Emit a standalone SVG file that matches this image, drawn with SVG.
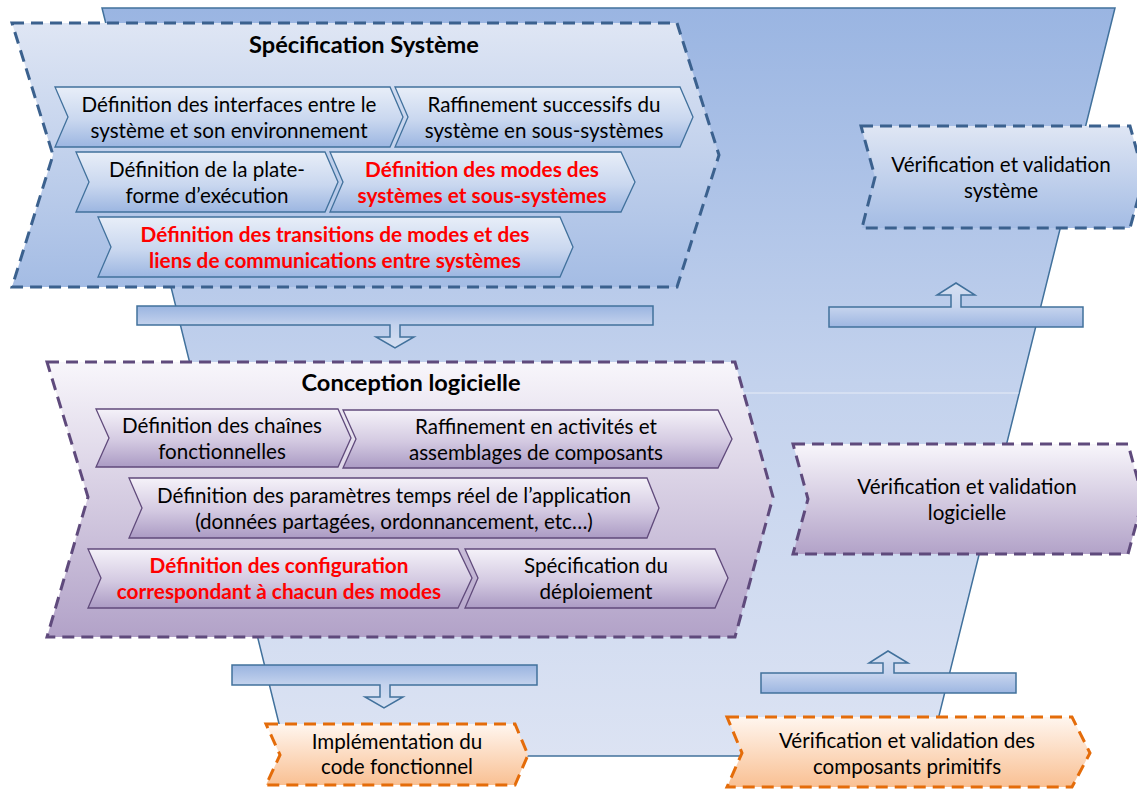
<svg xmlns="http://www.w3.org/2000/svg" width="1137" height="789" viewBox="0 0 1137 789">
  <defs>
    <linearGradient id="gBack" gradientUnits="userSpaceOnUse" x1="0" y1="8" x2="0" y2="756">
      <stop offset="0" stop-color="#9ab5e2"/>
      <stop offset="0.5" stop-color="#c3d2ed"/>
      <stop offset="1" stop-color="#dce3f3"/>
    </linearGradient>
    <linearGradient id="gBlueBig" x1="0" y1="0" x2="0" y2="1">
      <stop offset="0" stop-color="#dfe6f4"/>
      <stop offset="1" stop-color="#a4bce4"/>
    </linearGradient>
    <linearGradient id="gBlueSub" x1="0" y1="0" x2="0" y2="1">
      <stop offset="0" stop-color="#e8eef8"/>
      <stop offset="0.55" stop-color="#c9d7ef"/>
      <stop offset="1" stop-color="#9cb6e1"/>
    </linearGradient>
    <linearGradient id="gPurpleBig" x1="0" y1="0" x2="0" y2="1">
      <stop offset="0" stop-color="#f8f6fb"/>
      <stop offset="1" stop-color="#b2a2c8"/>
    </linearGradient>
    <linearGradient id="gPurpleSub" x1="0" y1="0" x2="0" y2="1">
      <stop offset="0" stop-color="#f5f2f9"/>
      <stop offset="0.55" stop-color="#d3c9e1"/>
      <stop offset="1" stop-color="#ab9bc4"/>
    </linearGradient>
    <linearGradient id="gOrange" x1="0" y1="0" x2="0" y2="1">
      <stop offset="0" stop-color="#fff6ef"/>
      <stop offset="1" stop-color="#f9c093"/>
    </linearGradient>
    <linearGradient id="gDown" x1="0" y1="0" x2="0" y2="1">
      <stop offset="0" stop-color="#9ab4e0"/>
      <stop offset="0.45" stop-color="#c3d2ed"/>
      <stop offset="1" stop-color="#d6e0f2"/>
    </linearGradient>
    <linearGradient id="gUp" x1="0" y1="0" x2="0" y2="1">
      <stop offset="0" stop-color="#d6e0f2"/>
      <stop offset="0.55" stop-color="#c6d4ee"/>
      <stop offset="1" stop-color="#9db6e1"/>
    </linearGradient>
  </defs>
  <style>
    text { font-family: Lato, "Noto Sans", "DejaVu Sans", sans-serif; font-size: 20.6px; fill: #000; text-anchor: middle; }
    .title { font-weight: bold; font-size: 23.6px; }
    .red { fill: #ff0000; font-weight: bold; font-size: 20.8px; }
    .sub-blue { fill: url(#gBlueSub); stroke: #41719c; stroke-width: 1.3; }
    .sub-purple { fill: url(#gPurpleSub); stroke: #604a7b; stroke-width: 1.3; }
    .dash-blue { stroke: #3b618e; stroke-width: 3; stroke-dasharray: 12 7; }
    .dash-purple { stroke: #5f4a7c; stroke-width: 3; stroke-dasharray: 12 7; }
    .dash-orange { stroke: #e46c0a; stroke-width: 3; stroke-dasharray: 12 7; }
    .arrow { stroke: #41719c; stroke-width: 1.5; }
  </style>

  <!-- background V-shaped funnel -->
  <g id="funnel">
    <path d="M102,8 H1115 L929,756 H287 Z" fill="url(#gBack)" stroke="#41719c" stroke-width="1.5"/>
    <line x1="197" y1="393" x2="1019" y2="393" stroke="#ffffff" stroke-opacity="0.6" stroke-width="1"/>
  </g>

  <!-- Spécification Système -->
  <g id="spec-systeme">
    <path class="dash-blue" d="M12,23 H677 L719,155 L677,287 H12 L53,155 Z" fill="url(#gBlueBig)"/>
    <text class="title" x="364" y="53">Spécification Système</text>
  </g>
  <g id="def-interfaces">
    <path class="sub-blue" d="M55,87 H390 L403,117 L390,147 H55 L68,117 Z"/>
    <text x="229" y="112">Définition des interfaces entre le</text>
    <text x="229" y="138">système et son environnement</text>
  </g>
  <g id="raffinement-sous-systemes">
    <path class="sub-blue" d="M395,87 H680 L693,117 L680,147 H395 L408,117 Z"/>
    <text x="544" y="112">Raffinement successifs du</text>
    <text x="544" y="138">système en sous-systèmes</text>
  </g>
  <g id="def-plateforme">
    <path class="sub-blue" d="M76,152 H325 L338,182 L325,212 H76 L89,182 Z"/>
    <text x="207" y="177">Définition de la plate-</text>
    <text x="207" y="203">forme d’exécution</text>
  </g>
  <g id="def-modes">
    <path class="sub-blue" d="M330,152 H621 L635,182 L621,212 H330 L343,182 Z"/>
    <text class="red" x="482" y="177">Définition des modes des</text>
    <text class="red" x="482" y="203">systèmes et sous-systèmes</text>
  </g>
  <g id="def-transitions">
    <path class="sub-blue" d="M98,217 H560 L573,247 L560,277 H98 L111,247 Z"/>
    <text class="red" x="335" y="242">Définition des transitions de modes et des</text>
    <text class="red" x="335" y="268">liens de communications entre systèmes</text>
  </g>

  <!-- Vérification et validation système -->
  <g id="vv-systeme">
    <path class="dash-blue" d="M861,126 H1130 L1144,177 L1130,228 H862 L875,177 Z" fill="url(#gBlueBig)"/>
    <text x="1001" y="172">Vérification et validation</text>
    <text x="1001" y="198">système</text>
  </g>

  <!-- Conception logicielle -->
  <g id="conception-logicielle">
    <path class="dash-purple" d="M47,362 H735 L773,497 L735,637 H47 L88,497 Z" fill="url(#gPurpleBig)"/>
    <text class="title" x="411" y="391">Conception logicielle</text>
  </g>
  <g id="def-chaines">
    <path class="sub-purple" d="M96,409 H338 L351,438 L338,467 H96 L109,438 Z"/>
    <text x="222" y="433">Définition des chaînes</text>
    <text x="222" y="459">fonctionnelles</text>
  </g>
  <g id="raffinement-activites">
    <path class="sub-purple" d="M343,410 H718 L732,439 L718,468 H343 L356,439 Z"/>
    <text x="536" y="434">Raffinement en activités et</text>
    <text x="536" y="460">assemblages de composants</text>
  </g>
  <g id="def-parametres">
    <path class="sub-purple" d="M129,478 H647 L659,508 L647,538 H129 L142,508 Z"/>
    <text x="394" y="503">Définition des paramètres temps réel de l’application</text>
    <text x="394" y="529">(données partagées, ordonnancement, etc…)</text>
  </g>
  <g id="def-configuration">
    <path class="sub-purple" d="M88,549 H458 L472,578 L458,608 H88 L101,578 Z"/>
    <text class="red" x="279" y="573">Définition des configuration</text>
    <text class="red" x="279" y="599">correspondant à chacun des modes</text>
  </g>
  <g id="spec-deploiement">
    <path class="sub-purple" d="M465,549 H715 L728,578 L715,608 H465 L478,578 Z"/>
    <text x="596" y="573">Spécification du</text>
    <text x="596" y="599">déploiement</text>
  </g>

  <!-- Vérification et validation logicielle -->
  <g id="vv-logicielle">
    <path class="dash-purple" d="M793,444 H1128 L1143,499 L1128,554 H793 L808,499 Z" fill="url(#gPurpleBig)"/>
    <text x="967" y="494">Vérification et validation</text>
    <text x="967" y="520">logicielle</text>
  </g>

  <!-- Implémentation du code fonctionnel -->
  <g id="implementation">
    <path class="dash-orange" d="M266,724 H515 L528,755 L515,785 H266 L280,755 Z" fill="url(#gOrange)"/>
    <text x="397" y="749">Implémentation du</text>
    <text x="397" y="774">code fonctionnel</text>
  </g>

  <!-- Vérification et validation des composants primitifs -->
  <g id="vv-composants">
    <path class="dash-orange" d="M727,717 H1072 L1090,753 L1072,787 H727 L742,753 Z" fill="url(#gOrange)"/>
    <text x="907" y="748">Vérification et validation des</text>
    <text x="907" y="774">composants primitifs</text>
  </g>

  <!-- flow arrows between levels -->
  <g id="connectors">
    <path class="arrow" fill="url(#gDown)" d="M137,306 H653 V325 H400 V337 H414 L395,348 L376,337 H390 V325 H137 Z"/>
    <path class="arrow" fill="url(#gUp)" d="M829,307 H951 V295 H937 L956,283 L975,295 H961 V307 H1083 V327 H829 Z"/>
    <path class="arrow" fill="url(#gDown)" d="M232,665 H537 V685 H390 V697 H403 L384,708 L365,697 H380 V685 H232 Z"/>
    <path class="arrow" fill="url(#gUp)" d="M761,673 H883 V663 H869 L888,651 L908,663 H894 V673 H1016 V693 H761 Z"/>
  </g>
</svg>
